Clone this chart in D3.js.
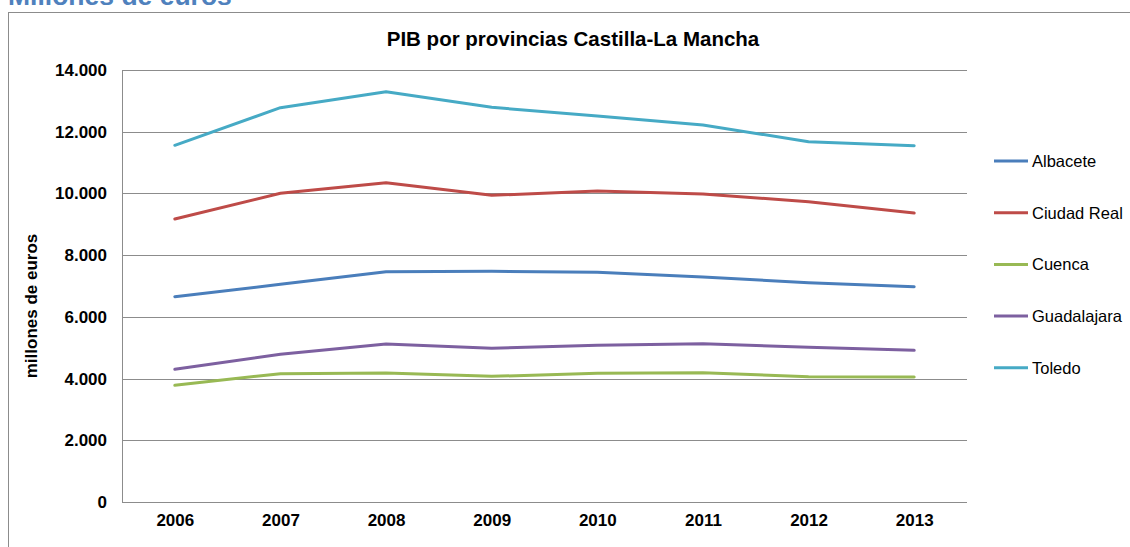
<!DOCTYPE html>
<html>
<head>
<meta charset="utf-8">
<script src="https://cdn.jsdelivr.net/npm/d3@7"></script>
<style>
  body { margin: 0; background: #fff; overflow: hidden; }
  text { font-family: Arial, "Liberation Sans", sans-serif; }
</style>
</head>
<body>
<script>
var years = ['2006', '2007', '2008', '2009', '2010', '2011', '2012', '2013'];
var yTicks = [0, 2000, 4000, 6000, 8000, 10000, 12000, 14000];

var albacete    = [6654, 7054, 7464, 7475, 7443, 7292, 7108, 6978];
var ciudadReal  = [9171, 10004, 10348, 9939, 10079, 9981, 9733, 9366];
var cuenca      = [3781, 4159, 4180, 4072, 4170, 4191, 4061, 4051];
var guadalajara = [4300, 4786, 5120, 4980, 5077, 5131, 5012, 4915];
var toledo      = [11560, 12778, 13297, 12790, 12509, 12218, 11676, 11547];

var seriesNames = ['Albacete', 'Ciudad Real', 'Cuenca', 'Guadalajara', 'Toledo'];
var seriesValues = [albacete, ciudadReal, cuenca, guadalajara, toledo];
var seriesColors = ['#4a7ebb', '#be4b48', '#98b954', '#7d60a0', '#46aac5'];

var width = 1130;
var height = 547;
var fontFam = 'Arial, "Liberation Sans", sans-serif';

var svg = d3.select('body').append('svg')
  .attr('width', width)
  .attr('height', height);

// heading, cut off at the top
svg.append('text')
  .attr('x', 8)
  .attr('y', 5)
  .attr('font-size', 26.5)
  .attr('font-weight', 'bold')
  .attr('fill', '#4f81bd')
  .text('Millones de euros');

// chart border
svg.append('rect')
  .attr('x', 8.5)
  .attr('y', 12.5)
  .attr('width', 1130)
  .attr('height', 600)
  .attr('fill', 'none')
  .attr('stroke', '#8c8c8c');

svg.append('text')
  .attr('x', 573)
  .attr('y', 46)
  .attr('text-anchor', 'middle')
  .attr('font-size', 20.5)
  .attr('font-weight', 'bold')
  .text('PIB por provincias Castilla-La Mancha');

var plotLeft = 122, plotRight = 967, plotTop = 70, plotBottom = 502;

var x = d3.scalePoint().domain(years).range([plotLeft, plotRight]).padding(0.5);
var y = d3.scaleLinear().domain([0, 14000]).range([plotBottom, plotTop]);

var fmt = function(d) { return d3.format(',')(d).replace(/,/g, '.'); };

// gridlines
svg.append('g')
  .selectAll('line')
  .data(yTicks)
  .enter().append('line')
  .attr('x1', plotLeft)
  .attr('x2', plotRight)
  .attr('y1', function(d) { return Math.round(y(d)) + 0.5; })
  .attr('y2', function(d) { return Math.round(y(d)) + 0.5; })
  .attr('stroke', '#8c8c8c')
  .attr('stroke-width', 1);

// left axis line
svg.append('line')
  .attr('x1', plotLeft + 0.5).attr('x2', plotLeft + 0.5)
  .attr('y1', plotTop).attr('y2', plotBottom + 1)
  .attr('stroke', '#8c8c8c');

var yAxis = svg.append('g')
  .attr('transform', 'translate(' + plotLeft + ',0)')
  .call(d3.axisLeft(y).tickValues(yTicks).tickFormat(fmt).tickSize(0).tickPadding(15));
yAxis.select('.domain').remove();
yAxis.selectAll('text')
  .attr('font-size', 17)
  .attr('font-weight', 'bold')
  .attr('fill', '#000')
  .attr('font-family', fontFam);

var xAxis = svg.append('g')
  .attr('transform', 'translate(0,' + plotBottom + ')')
  .call(d3.axisBottom(x).tickSize(0).tickPadding(12));
xAxis.select('.domain').remove();
xAxis.selectAll('text')
  .attr('font-size', 17)
  .attr('font-weight', 'bold')
  .attr('fill', '#000')
  .attr('font-family', fontFam);

svg.append('text')
  .attr('transform', 'translate(37,306) rotate(-90)')
  .attr('text-anchor', 'middle')
  .attr('font-size', 17)
  .attr('font-weight', 'bold')
  .text('millones de euros');

var line = d3.line()
  .x(function(d, i) { return x(years[i]); })
  .y(function(d) { return y(d); });

seriesValues.forEach(function(vals, i) {
  svg.append('path')
    .datum(vals)
    .attr('d', line)
    .attr('fill', 'none')
    .attr('stroke', seriesColors[i])
    .attr('stroke-width', 3)
    .attr('stroke-linecap', 'round')
    .attr('stroke-linejoin', 'round');
});

// legend
var legend = svg.append('g');
seriesNames.forEach(function(name, i) {
  var ly = 161 + i * 51.7;
  legend.append('line')
    .attr('x1', 994).attr('x2', 1028)
    .attr('y1', ly).attr('y2', ly)
    .attr('stroke', seriesColors[i])
    .attr('stroke-width', 3);
  legend.append('text')
    .attr('x', 1032)
    .attr('y', ly + 6)
    .attr('font-size', 16.5)
    .text(name);
});
</script>
</body>
</html>
